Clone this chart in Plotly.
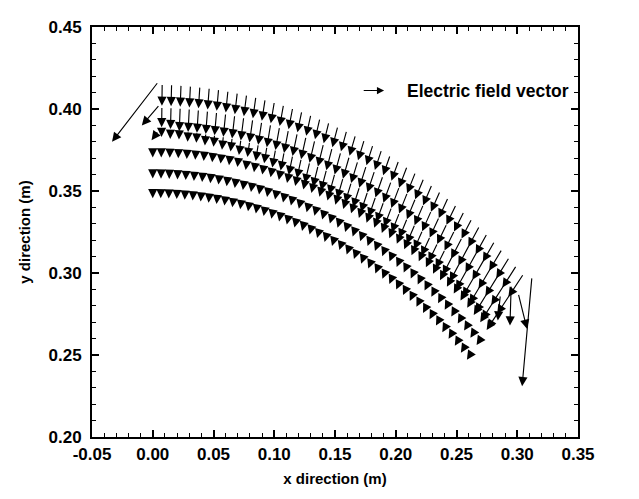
import math
import plotly.graph_objects as go

# ---- data ----
# polar mesh: centre of the arcs, tail radius of each row, mesh angles (deg, from +y toward +x)
CENTER = (0.0, -0.043)
ROW_RADII = [0.458, 0.444, 0.430, 0.416, 0.403, 0.391]
ANGLES_DEG = [0.00, 0.97, 1.94, 2.91, 3.88, 4.85, 5.82, 6.79, 7.76, 8.73, 9.70,
              10.67, 11.64, 12.61, 13.58, 14.55, 15.52, 16.49, 17.46, 18.43, 19.40,
              20.37, 21.34, 22.31, 23.28, 24.25, 25.22, 26.19, 27.16, 28.13, 29.10,
              30.07, 31.04, 32.01, 32.98, 33.95, 34.92, 35.89, 36.86, 37.83, 38.80,
              39.77, 40.74, 41.71]
# arrow length (m) at each mesh node; None = edge node, drawn from the edge list below
ROW1_LEN = [None, 0.013, 0.013, 0.013, 0.013, 0.013, 0.013, 0.013, 0.013, 0.013, 0.013,
            0.013, 0.013, 0.013, 0.013, 0.013, 0.013, 0.013, 0.013, 0.013, 0.013,
            0.013, 0.013, 0.013, 0.013, 0.013, 0.013, 0.013, 0.014, 0.014, 0.014,
            0.014, 0.014, 0.014, 0.014, 0.014, 0.014, 0.015, 0.015, 0.015, 0.016,
            0.016, 0.017, 0.018]
ROW2_LEN = [None, 0.012, 0.013, 0.014, 0.014, 0.014, 0.014, 0.014, 0.014, 0.014, 0.014,
            0.014, 0.014, 0.014, 0.014, 0.014, 0.014, 0.014, 0.014, 0.014, 0.014,
            0.014, 0.014, 0.014, 0.014, 0.014, 0.014, 0.014, 0.014, 0.014, 0.014,
            0.014, 0.014, 0.014, 0.014, 0.014, 0.015, 0.015, 0.015, 0.015, 0.016,
            0.016, 0.017, 0.018]
ROW3_LEN = [None, 0.004, 0.005, 0.005, 0.006, 0.006, 0.007, 0.007, 0.008, 0.008, 0.009,
            0.009, 0.010, 0.010, 0.011, 0.011, 0.012, 0.012, 0.013, 0.013, 0.013,
            0.013, 0.013, 0.013, 0.013, 0.013, 0.013, 0.013, 0.013, 0.013, 0.013,
            0.013, 0.013, 0.013, 0.013, 0.013, 0.013, 0.013, 0.014, 0.014, 0.014,
            0.015, 0.015, 0.016]
ROW4_LEN = [0.0025, 0.0025, 0.0025, 0.0025, 0.0025, 0.0025, 0.0025, 0.0025, 0.0025, 0.0025, 0.0025,
            0.003, 0.003, 0.003, 0.003, 0.003, 0.003, 0.003, 0.003, 0.003, 0.003,
            0.003, 0.003, 0.003, 0.003, 0.003, 0.003, 0.003, 0.003, 0.003, 0.003,
            0.003, 0.003, 0.003, 0.003, 0.003, 0.003, 0.003, 0.003, 0.003, 0.003,
            0.003, 0.003, 0.003]
ROW5_LEN = [0.0024] * 44
ROW6_LEN = [0.0024] * 44
ROW_LENGTHS = [ROW1_LEN, ROW2_LEN, ROW3_LEN, ROW4_LEN, ROW5_LEN, ROW6_LEN]

# edge arrows (tail x, tail y, head x, head y)
EDGE_TAIL_X = [0.004, 0.005, 0.004, 0.312, 0.301, 0.295, 0.286]
EDGE_TAIL_Y = [0.416, 0.402, 0.386, 0.297, 0.287, 0.292, 0.286]
EDGE_HEAD_X = [-0.0335, -0.009, -0.001, 0.304, 0.308, 0.294, 0.284]
EDGE_HEAD_Y = [0.380, 0.390, 0.381, 0.231, 0.266, 0.268, 0.271]

X_RANGE = [-0.05, 0.35]
Y_RANGE = [0.20, 0.45]
X_TICKS = [-0.05, 0.00, 0.05, 0.10, 0.15, 0.20, 0.25, 0.30, 0.35]
X_TICK_TEXT = ["-0.05", "0.00", "0.05", "0.10", "0.15", "0.20", "0.25", "0.30", "0.35"]
Y_TICKS = [0.20, 0.25, 0.30, 0.35, 0.40, 0.45]
Y_TICK_TEXT = ["0.20", "0.25", "0.30", "0.35", "0.40", "0.45"]
LEGEND_TEXT = "Electric field vector"

FONT = "Liberation Sans, Arial, sans-serif"

arrows = []
for r, lens in zip(ROW_RADII, ROW_LENGTHS):
    for a, L in zip(ANGLES_DEG, lens):
        if L is None:
            continue
        t = math.radians(a)
        s, c = math.sin(t), math.cos(t)
        tx, ty = CENTER[0] + r * s, CENTER[1] + r * c
        hx, hy = tx - L * s, ty - L * c
        arrows.append((tx, ty, hx, hy))
for tx, ty, hx, hy in zip(EDGE_TAIL_X, EDGE_TAIL_Y, EDGE_HEAD_X, EDGE_HEAD_Y):
    arrows.append((tx, ty, hx, hy))

annotations = []
for tx, ty, hx, hy in arrows:
    annotations.append(dict(
        x=hx, y=hy, ax=tx, ay=ty, xref="x", yref="y", axref="x", ayref="y",
        text="", showarrow=True, arrowhead=2, arrowsize=1.6, arrowwidth=1.15,
        arrowcolor="black", borderpad=0, font=dict(size=1), standoff=0, startstandoff=0,
    ))

# legend entry
annotations.append(dict(
    x=0.601, y=0.845, ax=0.556, ay=0.845, xref="x domain", yref="y domain",
    axref="x domain", ayref="y domain", text="", showarrow=True, arrowhead=2,
    arrowsize=1.3, arrowwidth=1.1, arrowcolor="black", font=dict(size=1),
))
annotations.append(dict(
    x=0.644, y=0.845, xref="x domain", yref="y domain", xanchor="left", yanchor="middle",
    text="<b>" + LEGEND_TEXT + "</b>", showarrow=False,
    font=dict(family=FONT, size=17.5, color="black"),
))

fig = go.Figure()
fig.add_trace(go.Scatter(x=[None], y=[None], mode="markers", showlegend=False))

axis_common = dict(
    showgrid=False, zeroline=False, showline=True, linecolor="black", linewidth=2,
    mirror="allticks", ticks="inside", ticklen=7, tickwidth=1.5, tickcolor="black",
    tickfont=dict(family=FONT, size=17, color="black"),
    minor=dict(ticks="inside", ticklen=4, tickwidth=1, tickcolor="black", dtick=0.01),
)

fig.update_layout(
    width=639, height=499,
    margin=dict(l=84, r=69, t=10, b=70),
    paper_bgcolor="white", plot_bgcolor="white",
    showlegend=False,
    annotations=annotations,
    xaxis=dict(range=X_RANGE, tickvals=X_TICKS, ticktext=["<b>%s</b>" % t for t in X_TICK_TEXT],
               title=dict(text="<b>x direction (m)</b>", font=dict(family=FONT, size=15, color="black"), standoff=10),
               ticklabelstandoff=1, **axis_common),
    yaxis=dict(range=Y_RANGE, tickvals=Y_TICKS, ticktext=["<b>%s</b>" % t for t in Y_TICK_TEXT],
               title=dict(text="<b>y direction (m)</b>", font=dict(family=FONT, size=15, color="black"), standoff=14),
               ticklabelstandoff=5, **axis_common),
)

fig.write_html("out.html")
